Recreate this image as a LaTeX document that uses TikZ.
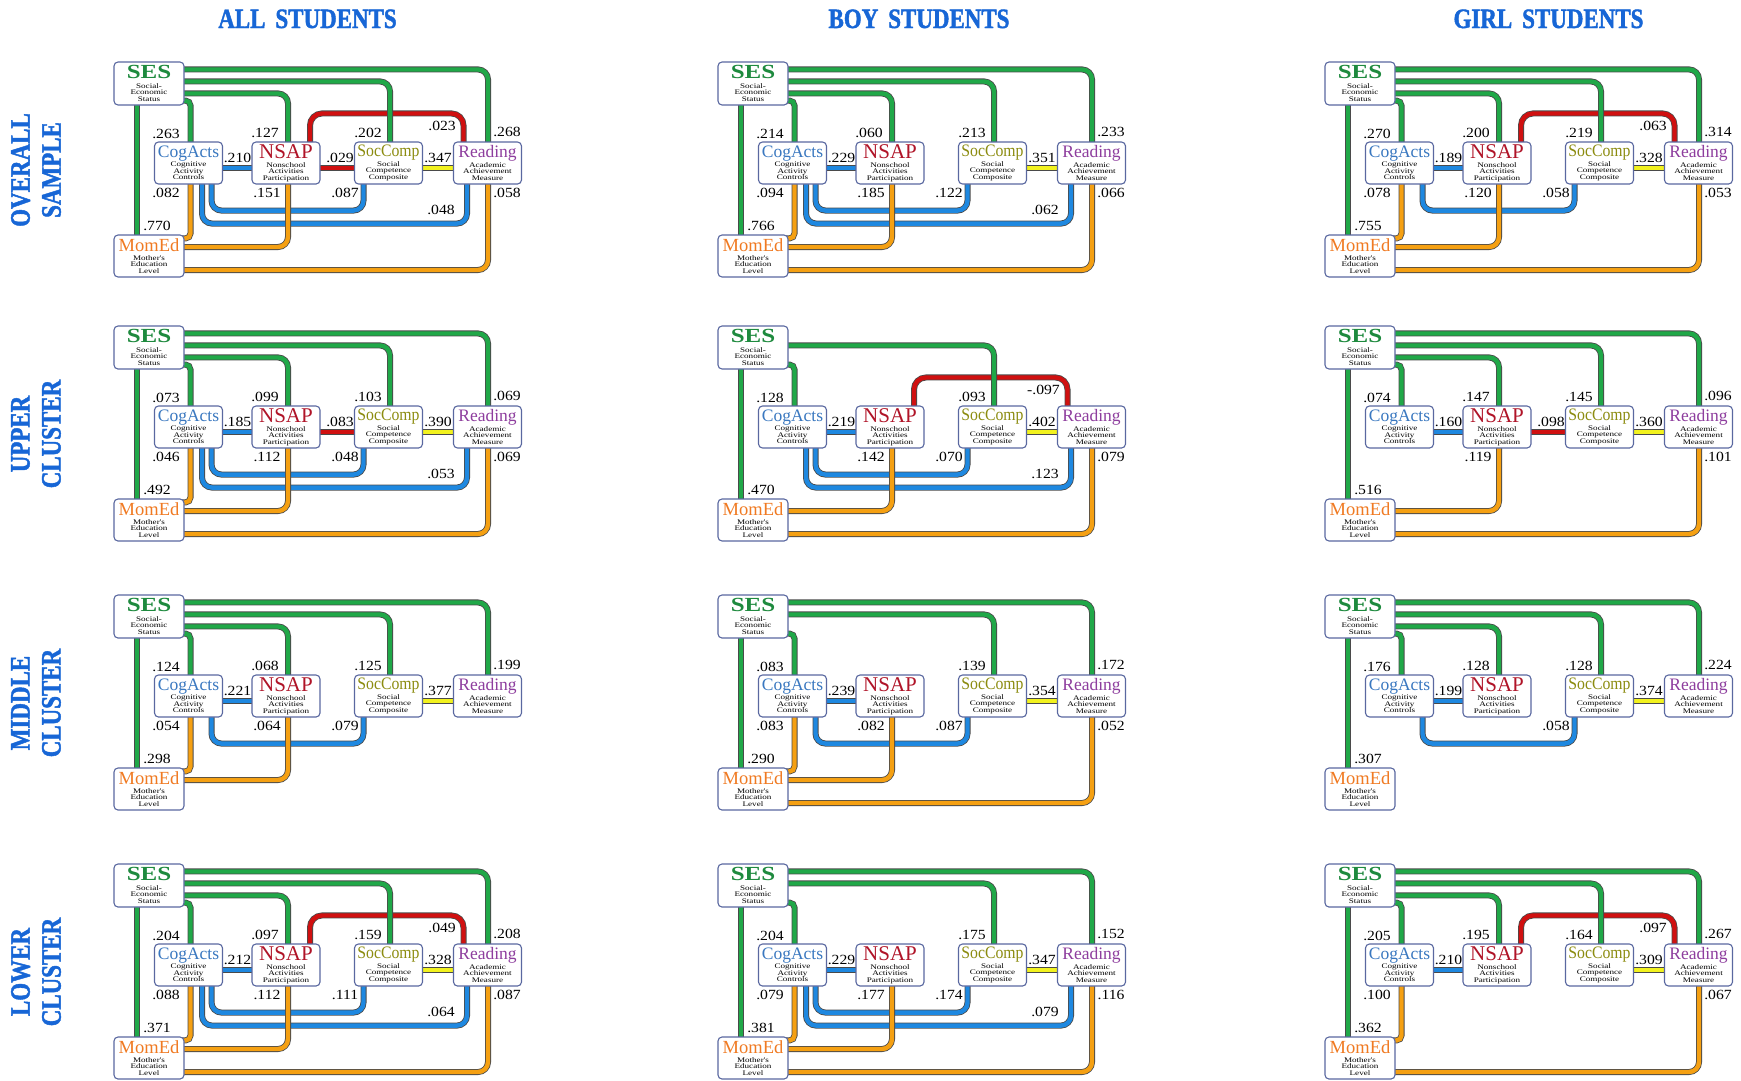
\documentclass[tikz,border=0pt]{standalone}
\usepackage{fontspec}
\usepackage{graphicx}
\setmainfont{Liberation Serif}
\newfontfamily\vsubfam[FakeStretch=1.3]{Liberation Serif}
\newfontfamily\vnumfam[FakeStretch=1.12]{Liberation Serif}
\newfontfamily\vheadfam[FakeStretch=0.82,FakeBold=1.5]{Liberation Serif}
\usetikzlibrary{backgrounds}

\definecolor{gline}{HTML}{20A848}
\definecolor{bline}{HTML}{1E88E0}
\definecolor{rline}{HTML}{D01010}
\definecolor{yline}{HTML}{F2F21E}
\definecolor{oline}{HTML}{F5A012}
\definecolor{edgec}{HTML}{4A4A4A}
\definecolor{boxc}{HTML}{5A68A0}
\definecolor{cSES}{HTML}{1E8A3E}
\definecolor{cCog}{HTML}{3A78C0}
\definecolor{cNSAP}{HTML}{B01428}
\definecolor{cSoc}{HTML}{8C8C10}
\definecolor{cRead}{HTML}{8E3E9E}
\definecolor{cMom}{HTML}{F07A22}
\definecolor{headc}{HTML}{1766D6}

\newcommand\vsubfont{\vsubfam\fontsize{7}{6.6}\selectfont\lineskiplimit=-100pt\relax}
\newcommand\vnumfont{\vnumfam\fontsize{14}{14}\selectfont}
\newcommand\vheadfont{\vheadfam\bfseries\fontsize{28}{31}\selectfont\lineskiplimit=-100pt\relax}

\newcommand\tSES{{\rmfamily\fontsize{20}{20}\selectfont\bfseries\color{cSES}\scalebox{1.25}[1]{SES}}}
\newcommand\tCog{{\rmfamily\fontsize{17.5}{17.5}\selectfont\color{cCog}CogActs}}
\newcommand\tNSAP{{\rmfamily\fontsize{21}{21}\selectfont\color{cNSAP}NSAP}}
\newcommand\tSoc{{\rmfamily\fontsize{17.5}{17.5}\selectfont\color{cSoc}\scalebox{0.9}[1]{SocComp}}}
\newcommand\tRead{{\rmfamily\fontsize{17.5}{17.5}\selectfont\color{cRead}Reading}}
\newcommand\tMom{{\rmfamily\fontsize{18.5}{18.5}\selectfont\color{cMom}MomEd}}

\tikzset{
  vbox/.style={draw=boxc, line width=1.1pt, rounded corners=4pt, fill=white,
    minimum width=68pt, minimum height=42pt, inner sep=1pt, align=center, font=\vsubfont},
  conn/.style={line width=0.8pt, draw=edgec, double distance=4.4pt, rounded corners=10pt},
  gconn/.style={conn, double=gline},
  bconn/.style={conn, double=bline},
  rconn/.style={conn, double=rline},
  yconn/.style={conn, double=yline},
  oconn/.style={conn, double=oline},
  val/.style={font=\vnumfont, inner sep=0pt, text height=9.4pt, text depth=0pt},
  hdr/.style={font=\vheadfont, text=headc, inner sep=0pt},
}

\pgfkeys{/vp/.cd,
  sc/.store in=\vSC, sn/.store in=\vSN, ss/.store in=\vSS, sr/.store in=\vSR,
  nr/.store in=\vNR, cn/.store in=\vCN, ns/.store in=\vNS, so/.store in=\vSO,
  mc/.store in=\vMC, mn/.store in=\vMN, cs/.store in=\vCS, mr/.store in=\vMR,
  cr/.store in=\vCR, sm/.store in=\vSM}
\newcommand\vreset{\let\vSC\empty\let\vSN\empty\let\vSS\empty\let\vSR\empty
  \let\vNR\empty\let\vCN\empty\let\vNS\empty\let\vSO\empty\let\vMC\empty
  \let\vMN\empty\let\vCS\empty\let\vMR\empty\let\vCR\empty\let\vSM\empty}

\newcommand\vpanel[4]{%
\vreset\pgfkeys{/vp/.cd,#4}%
\begin{scope}[shift={(#2,#3)}]
\node[vbox,minimum width=70pt,minimum height=43pt] (#1S) at (35,21.5) {\tSES\\[2.6pt]Social-\\Economic\\Status};
\node[vbox] (#1C) at (74.5,101) {\tCog\\[2.6pt]Cognitive\\Activity\\Controls};
\node[vbox] (#1N) at (172,101) {\tNSAP\\[2.6pt]Nonschool\\Activities\\Participation};
\node[vbox] (#1O) at (274.5,101) {\tSoc\\[2.6pt]Social\\Competence\\Composite};
\node[vbox] (#1R) at (373.5,101) {\tRead\\[2.6pt]Academic\\Achievement\\Measure};
\node[vbox,minimum width=70pt] (#1M) at (35,194) {\tMom\\[2.6pt]Mother's\\Education\\Level};
\begin{pgfonlayer}{background}
\ifx\vNR\empty\else\draw[rconn,rounded corners=12pt] ([xshift=24pt,yshift=-3pt]#1N.north) -- ++(0,-31) -| ([xshift=-24pt,yshift=-3pt]#1R.north);\fi
\ifx\vNS\empty\else\draw[rconn] ([xshift=-3pt,yshift=-5pt]#1N.east) -- ([xshift=3pt,yshift=-5pt]#1O.west);\fi
\ifx\vSO\empty\else\draw[yconn] ([xshift=-3pt,yshift=-5pt]#1O.east) -- ([xshift=3pt,yshift=-5pt]#1R.west);\fi
\ifx\vCN\empty\else\draw[bconn] ([xshift=-3pt,yshift=-5pt]#1C.east) -- ([xshift=3pt,yshift=-5pt]#1N.west);\fi
\ifx\vCS\empty\else\draw[bconn] ([xshift=23pt,yshift=3pt]#1C.south) -- ++(0,29) -| ([xshift=-25pt,yshift=3pt]#1O.south);\fi
\ifx\vCR\empty\else\draw[bconn] ([xshift=13.5pt,yshift=3pt]#1C.south) -- ++(0,42) -| ([xshift=-20.5pt,yshift=3pt]#1R.south);\fi
\ifx\vMC\empty\else\draw[oconn,rounded corners=5pt] ([xshift=2pt,yshift=3pt]#1C.south) |- ([xshift=-5pt,yshift=-4pt]#1M.north east);\fi
\ifx\vMN\empty\else\draw[oconn] ([xshift=-5pt,yshift=9pt]#1M.east) -| ([xshift=2pt,yshift=3pt]#1N.south);\fi
\ifx\vMR\empty\else\draw[oconn] ([xshift=-5pt,yshift=-14pt]#1M.east) -| ([xshift=0.5pt,yshift=3pt]#1R.south);\fi
\ifx\vSM\empty\else\draw[gconn] ([xshift=-12pt,yshift=3pt]#1S.south) -- ([xshift=-12pt,yshift=-3pt]#1M.north);\fi
\ifx\vSC\empty\else\draw[gconn,rounded corners=5pt] ([xshift=-5pt,yshift=5pt]#1S.south east) -| ([xshift=2pt,yshift=-3pt]#1C.north);\fi
\ifx\vSN\empty\else\draw[gconn] ([xshift=-5pt,yshift=-32pt]#1S.north east) -| ([xshift=2pt,yshift=-3pt]#1N.north);\fi
\ifx\vSS\empty\else\draw[gconn] ([xshift=-5pt,yshift=-20pt]#1S.north east) -| ([xshift=1.5pt,yshift=-3pt]#1O.north);\fi
\ifx\vSR\empty\else\draw[gconn] ([xshift=-5pt,yshift=-8pt]#1S.north east) -| ([xshift=0.5pt,yshift=-3pt]#1R.north);\fi
\end{pgfonlayer}
\ifx\vSC\empty\else\node[val] (#1lSC) at (52,72) {\vSC};\fi
\ifx\vSN\empty\else\node[val] (#1lSN) at (151,71) {\vSN};\fi
\ifx\vSS\empty\else\node[val] (#1lSS) at (254,71) {\vSS};\fi
\ifx\vSR\empty\else\node[val] (#1lSR) at (393,70) {\vSR};\fi
\ifx\vNR\empty\else\node[val,anchor=east] (#1lNR) at (342,64) {\vNR};\fi
\ifx\vCN\empty\else\node[val] (#1lCN) at (123.5,95.5) {\vCN};\fi
\ifx\vNS\empty\else\node[val] (#1lNS) at (226,95.5) {\vNS};\fi
\ifx\vSO\empty\else\node[val] (#1lSO) at (324,95.5) {\vSO};\fi
\ifx\vMC\empty\else\node[val] (#1lMC) at (52,131) {\vMC};\fi
\ifx\vMN\empty\else\node[val] (#1lMN) at (153,131) {\vMN};\fi
\ifx\vCS\empty\else\node[val] (#1lCS) at (231,131) {\vCS};\fi
\ifx\vMR\empty\else\node[val] (#1lMR) at (393,131) {\vMR};\fi
\ifx\vCR\empty\else\node[val] (#1lCR) at (327,148) {\vCR};\fi
\ifx\vSM\empty\else\node[val] (#1lSM) at (43,164) {\vSM};\fi
\end{scope}}

\begin{document}
\begin{tikzpicture}[x=1pt,y=-1pt]
\useasboundingbox (0,0) rectangle (1741,1080);
\begin{pgfonlayer}{background}
\fill[white] (0,0) rectangle (1741,1080);
\end{pgfonlayer}

\node[hdr,anchor=base] (hA) at (307.5,28) {ALL\hspace{10pt}STUDENTS};
\node[hdr,anchor=base] (hB) at (919,28) {BOY\hspace{10pt}STUDENTS};
\node[hdr,anchor=base] (hG) at (1548.5,28) {GIRL\hspace{10pt}STUDENTS};

\node[hdr,rotate=90,align=center] (r1) at (36,170) {OVERALL\\SAMPLE};
\node[hdr,rotate=90,align=center] (r2) at (36,434) {UPPER\\CLUSTER};
\node[hdr,rotate=90,align=center] (r3) at (36,703) {MIDDLE\\CLUSTER};
\node[hdr,rotate=90,align=center] (r4) at (36,972) {LOWER\\CLUSTER};

\vpanel{a}{114}{62}{sc=.263,sn=.127,ss=.202,sr=.268,nr=.023,cn=.210,ns=.029,so=.347,mc=.082,mn=.151,cs=.087,mr=.058,cr=.048,sm=.770}
\vpanel{b}{718}{62}{sc=.214,sn=.060,ss=.213,sr=.233,cn=.229,so=.351,mc=.094,mn=.185,cs=.122,mr=.066,cr=.062,sm=.766}
\vpanel{c}{1325}{62}{sc=.270,sn=.200,ss=.219,sr=.314,nr=.063,cn=.189,so=.328,mc=.078,mn=.120,cs=.058,mr=.053,sm=.755}

\vpanel{d}{114}{326}{sc=.073,sn=.099,ss=.103,sr=.069,cn=.185,ns=.083,so=.390,mc=.046,mn=.112,cs=.048,cr=.053,mr=.069,sm=.492}
\vpanel{e}{718}{326}{sc=.128,ss=.093,nr=-.097,cn=.219,so=.402,mn=.142,cs=.070,cr=.123,mr=.079,sm=.470}
\vpanel{f}{1325}{326}{sc=.074,sn=.147,ss=.145,sr=.096,cn=.160,ns=.098,so=.360,mn=.119,mr=.101,sm=.516}

\vpanel{g}{114}{595}{sc=.124,sn=.068,ss=.125,sr=.199,cn=.221,so=.377,mc=.054,mn=.064,cs=.079,sm=.298}
\vpanel{h}{718}{595}{sc=.083,ss=.139,sr=.172,cn=.239,so=.354,mc=.083,mn=.082,cs=.087,mr=.052,sm=.290}
\vpanel{i}{1325}{595}{sc=.176,sn=.128,ss=.128,sr=.224,cn=.199,so=.374,cs=.058,sm=.307}

\vpanel{j}{114}{864}{sc=.204,sn=.097,ss=.159,sr=.208,nr=.049,cn=.212,so=.328,mc=.088,mn=.112,cs=.111,cr=.064,mr=.087,sm=.371}
\vpanel{k}{718}{864}{sc=.204,ss=.175,sr=.152,cn=.229,so=.347,mc=.079,mn=.177,cs=.174,cr=.079,mr=.116,sm=.381}
\vpanel{l}{1325}{864}{sc=.205,sn=.195,ss=.164,sr=.267,nr=.097,cn=.210,so=.309,mc=.100,mr=.067,sm=.362}
\end{tikzpicture}
\end{document}
